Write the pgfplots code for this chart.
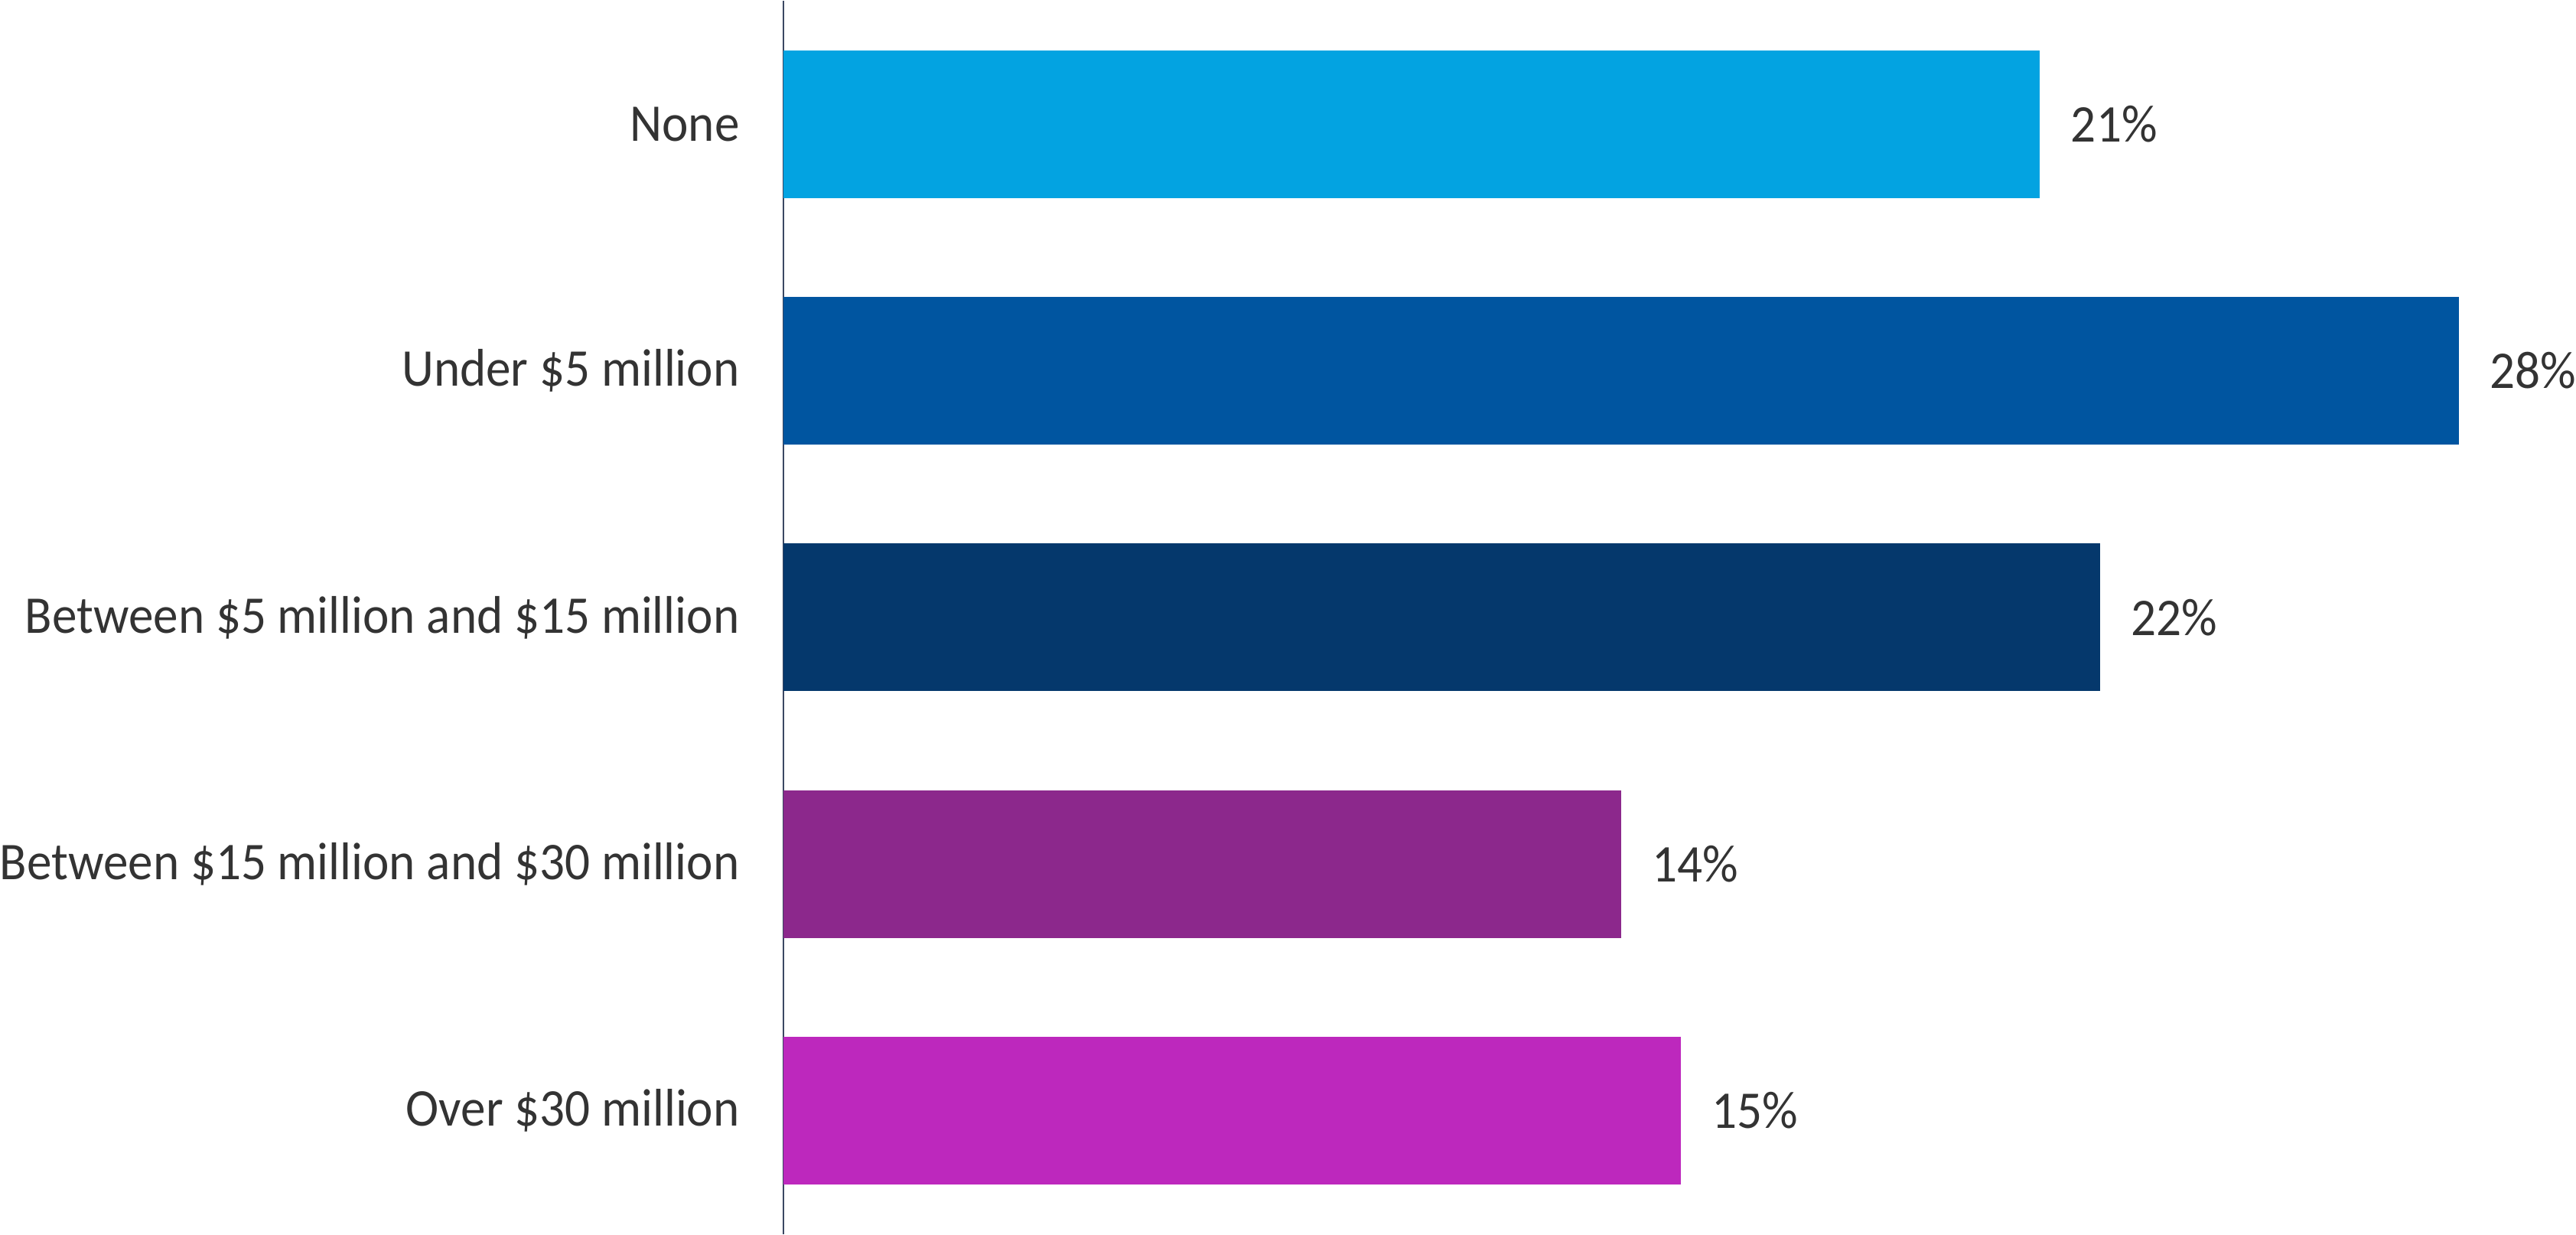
\documentclass[border=0pt]{standalone}
\usepackage{pgfplots}
\pgfplotsset{compat=1.18}
\usepackage{fontspec}
\setmainfont{Carlito}[FakeStretch=0.94]

\definecolor{txt}{HTML}{333333}
\definecolor{axisline}{HTML}{3B4762}
\definecolor{c1}{HTML}{03A3E1}
\definecolor{c2}{HTML}{0055A0}
\definecolor{c3}{HTML}{05386C}
\definecolor{c4}{HTML}{8C288C}
\definecolor{c5}{HTML}{BD28BD}

\begin{document}
\begin{tikzpicture}[font=\fontsize{7.0}{8.4}\selectfont]
\begin{axis}[
  scale only axis,
  width=221.2pt,
  height=162.8pt,
  xmin=0, xmax=28,
  ymin=-0.5, ymax=4.5,
  y dir=reverse,
  xbar, bar width=19.5pt, bar shift=0pt,
  axis x line=none,
  axis y line=left,
  axis line style={-, draw=axisline, line width=0.2pt},
  ytick={0,1,2,3,4},
  yticklabels={None, Under \$5 million, Between \$5 million and \$15 million,
    Between \$15 million and \$30 million, Over \$30 million},
  major tick length=0pt,
  yticklabel style={anchor=east, inner sep=0pt, xshift=-5.6pt, text=txt},
  /pgf/number format/assume math mode=true,
  nodes near coords={\pgfmathprintnumber{\pgfplotspointmeta}\%},
  every node near coord/.append style={anchor=west, inner sep=0pt, xshift=3.9pt, text=txt},
  clip=false,
]
\addplot[fill=c1, draw=none] coordinates {(21,0)};
\addplot[fill=c2, draw=none] coordinates {(28,1)};
\addplot[fill=c3, draw=none] coordinates {(22,2)};
\addplot[fill=c4, draw=none] coordinates {(14,3)};
\addplot[fill=c5, draw=none] coordinates {(15,4)};
\end{axis}
\end{tikzpicture}
\end{document}
